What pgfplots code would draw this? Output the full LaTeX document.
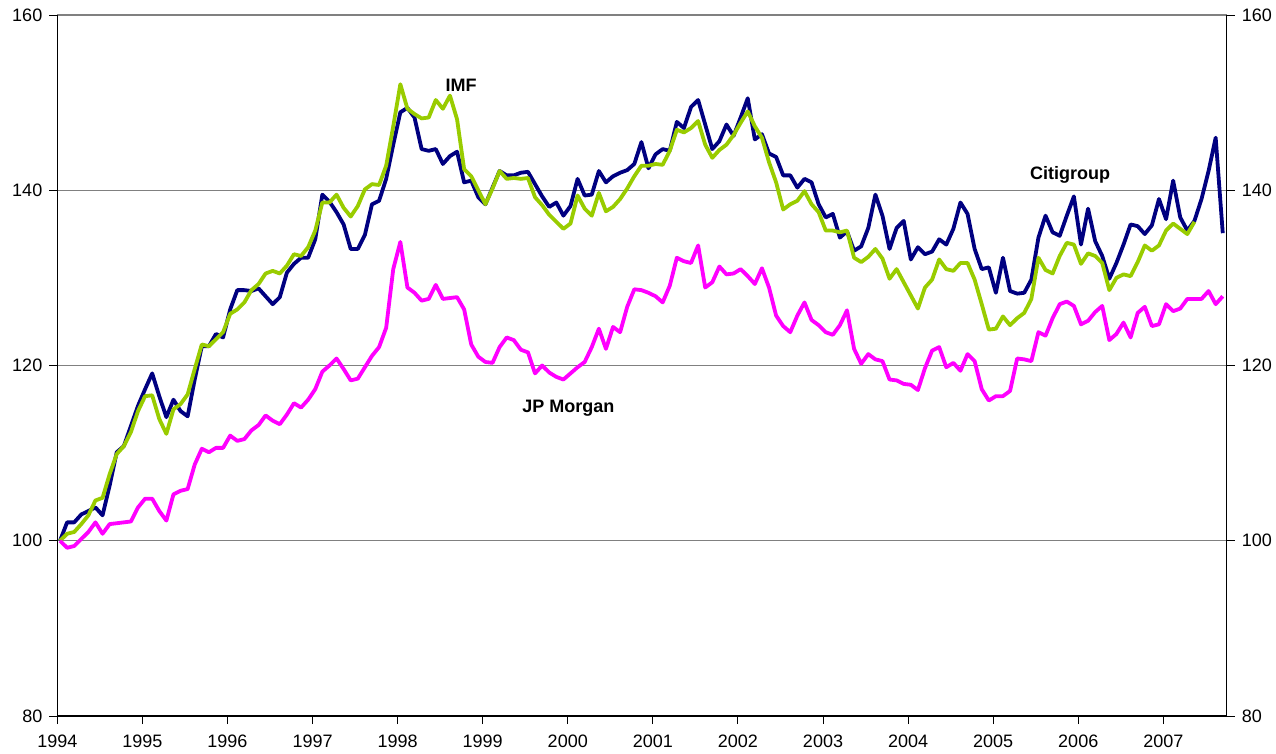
\documentclass[border=0pt]{standalone}
\usepackage{fontspec}
\setmainfont{Liberation Sans}
\usepackage{pgfplots}
\usepackage{pgfplotstable}
\pgfplotsset{compat=1.18}
\definecolor{citi}{RGB}{0,0,128}
\definecolor{imf}{RGB}{153,204,0}
\definecolor{jpm}{RGB}{255,0,255}
\definecolor{gridc}{RGB}{128,128,128}
\pgfplotstableread{
i c f j
0 100.0 100.0 100.0
1 102.1 100.8 99.2
2 102.1 101.0 99.4
3 103.0 101.9 100.2
4 103.4 102.9 101.0
5 103.8 104.6 102.1
6 102.9 104.9 100.8
7 106.3 107.6 101.9
8 110.1 109.9 102.0
9 110.8 110.8 102.1
10 113.1 112.4 102.2
11 115.4 114.8 103.8
12 117.3 116.5 104.8
13 119.1 116.6 104.8
14 116.5 113.9 103.4
15 114.1 112.2 102.3
16 116.1 115.0 105.3
17 114.8 115.6 105.7
18 114.2 116.7 105.9
19 118.4 119.6 108.7
20 122.2 122.4 110.5
21 122.2 122.2 110.1
22 123.6 123.0 110.6
23 123.2 123.8 110.6
24 126.4 125.9 112.0
25 128.6 126.4 111.4
26 128.6 127.2 111.6
27 128.5 128.6 112.6
28 128.8 129.3 113.2
29 127.9 130.5 114.3
30 127.0 130.8 113.7
31 127.8 130.5 113.3
32 130.6 131.4 114.4
33 131.6 132.7 115.7
34 132.3 132.5 115.2
35 132.3 133.5 116.1
36 134.4 135.4 117.3
37 139.5 138.6 119.3
38 138.7 138.6 120.0
39 137.5 139.5 120.8
40 136.1 138.0 119.6
41 133.3 137.0 118.3
42 133.3 138.2 118.5
43 134.9 140.1 119.8
44 138.4 140.7 121.1
45 138.8 140.6 122.1
46 141.3 142.8 124.3
47 145.2 147.3 131.0
48 148.9 152.1 134.1
49 149.4 149.3 128.9
50 148.3 148.7 128.3
51 144.7 148.2 127.4
52 144.5 148.3 127.6
53 144.7 150.3 129.2
54 143.0 149.3 127.6
55 143.9 150.8 127.7
56 144.4 148.1 127.8
57 140.9 142.4 126.4
58 141.1 141.6 122.4
59 139.2 140.0 121.0
60 138.4 138.4 120.4
61 140.3 140.2 120.3
62 142.2 142.2 122.1
63 141.7 141.3 123.2
64 141.7 141.4 122.9
65 142.0 141.3 121.8
66 142.1 141.4 121.5
67 140.7 139.2 119.1
68 139.3 138.3 120.0
69 138.1 137.2 119.2
70 138.6 136.4 118.7
71 137.1 135.6 118.4
72 138.2 136.2 119.1
73 141.3 139.4 119.8
74 139.4 137.9 120.4
75 139.5 137.1 122.1
76 142.2 139.7 124.2
77 140.9 137.6 121.9
78 141.6 138.1 124.4
79 142.0 139.0 123.8
80 142.3 140.2 126.7
81 143.0 141.6 128.7
82 145.5 142.8 128.6
83 142.5 142.8 128.3
84 144.1 143.0 127.9
85 144.7 142.9 127.2
86 144.5 144.5 129.1
87 147.8 146.9 132.3
88 147.1 146.6 131.9
89 149.5 147.1 131.7
90 150.3 147.9 133.7
91 147.5 145.2 128.9
92 144.7 143.7 129.5
93 145.6 144.6 131.3
94 147.5 145.2 130.4
95 146.2 146.3 130.5
96 148.3 147.7 131.0
97 150.5 149.0 130.2
98 145.8 147.3 129.3
99 146.4 146.0 131.1
100 144.2 143.2 128.9
101 143.8 140.9 125.7
102 141.7 137.8 124.5
103 141.7 138.4 123.8
104 140.3 138.8 125.7
105 141.3 139.9 127.2
106 140.9 138.4 125.2
107 138.4 137.5 124.6
108 136.9 135.4 123.8
109 137.3 135.4 123.5
110 134.6 135.2 124.6
111 135.3 135.4 126.3
112 133.1 132.3 121.9
113 133.6 131.8 120.2
114 135.7 132.4 121.3
115 139.5 133.3 120.7
116 137.1 132.2 120.5
117 133.3 129.9 118.4
118 135.7 131.0 118.3
119 136.5 129.5 117.9
120 132.1 128.0 117.8
121 133.5 126.5 117.2
122 132.7 128.9 119.7
123 133.0 129.8 121.7
124 134.4 132.1 122.1
125 133.8 131.0 119.8
126 135.6 130.8 120.3
127 138.6 131.7 119.4
128 137.3 131.7 121.3
129 133.3 129.8 120.5
130 131.0 127.0 117.3
131 131.2 124.1 116.0
132 128.3 124.2 116.5
133 132.3 125.6 116.5
134 128.5 124.6 117.1
135 128.2 125.4 120.8
136 128.3 126.0 120.7
137 129.8 127.6 120.5
138 134.6 132.3 123.8
139 137.1 130.9 123.4
140 135.2 130.5 125.4
141 134.8 132.5 127.0
142 137.1 134.0 127.3
143 139.3 133.8 126.8
144 133.8 131.6 124.7
145 137.9 132.8 125.1
146 134.2 132.5 126.1
147 132.5 131.7 126.8
148 129.9 128.6 122.9
149 131.7 130.0 123.6
150 133.8 130.4 124.9
151 136.1 130.2 123.2
152 135.9 131.8 126.0
153 135.0 133.7 126.7
154 136.0 133.1 124.5
155 139.0 133.7 124.7
156 136.7 135.4 127.0
157 141.1 136.2 126.2
158 136.9 135.6 126.5
159 135.4 135.0 127.6
160 136.5 136.4 127.6
161 139.0 nan 127.6
162 142.2 nan 128.5
163 146.0 nan 127.0
164 135.1 nan 127.9
}\data
\begin{document}
\begin{tikzpicture}[x=1bp,y=1bp]
\useasboundingbox (0,0) rectangle (638,376.5);
\pgfplotsset{
  commonax/.style={
    at={(28.65bp,18.5bp)}, anchor=south west,
    scale only axis, width=584.7bp, height=350.5bp,
    xmin=1994, xmax=2007.745, ymin=80, ymax=160,
    ytick={80,100,...,160},
    tick align=outside, major tick length=4bp,
    tick style={black, line width=0.5bp},
    axis line style={black, line width=0.7bp},
    tick label style={font=\fontsize{9bp}{11bp}\selectfont},
    /pgf/number format/assume math mode=true,
    /pgf/number format/1000 sep={},
  }
}
\begin{axis}[commonax,
  axis x line*=bottom, axis y line*=left,
  xtick={1994,1995,...,2007},
  x tick label style={yshift=-2bp},
  ymajorgrids, grid style={gridc, line width=0.6bp},
  clip=false]
\addplot[citi, line width=1.9bp, line join=round] table[x expr={1994.032+\thisrow{i}/12}, y=c]{\data};
\addplot[imf, line width=1.9bp, line join=round] table[x expr={1994.032+\thisrow{i}/12}, y=f]{\data};
\addplot[jpm, line width=1.9bp, line join=round] table[x expr={1994.032+\thisrow{i}/12}, y=j]{\data};
\node[anchor=base, font=\fontsize{9bp}{11bp}\selectfont\bfseries] at (axis cs:1998.745,151.3) {IMF};
\node[anchor=base, font=\fontsize{9bp}{11bp}\selectfont\bfseries] at (axis cs:2000.008,114.6) {JP Morgan};
\node[anchor=base, font=\fontsize{9bp}{11bp}\selectfont\bfseries] at (axis cs:2005.903,141.2) {Citigroup};
\end{axis}
\begin{axis}[commonax,
  axis x line=none, axis y line*=right]
\addplot[draw=none] coordinates {(1994,100)};
\end{axis}
\end{tikzpicture}
\end{document}
